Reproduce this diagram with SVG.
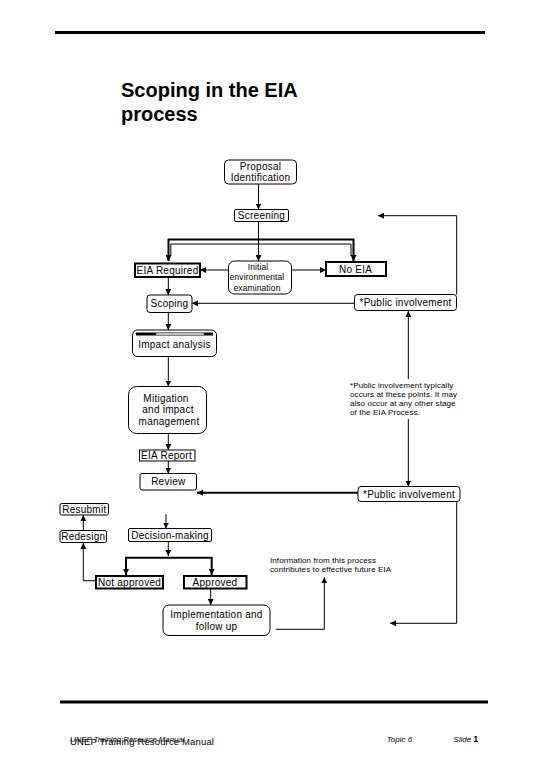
<svg xmlns="http://www.w3.org/2000/svg" width="540" height="780" viewBox="0 0 540 780">
<style>
.bg{fill:#fff}
.box{fill:#fff;stroke:#000;stroke-width:1}
.thick{fill:#fff;stroke:#000;stroke-width:2}
.t{font-family:"Liberation Sans",Arial,sans-serif;font-size:10px;letter-spacing:0.25px;fill:#000;text-anchor:middle}
.s{font-family:"Liberation Sans",Arial,sans-serif;font-size:8.5px;letter-spacing:0.1px;fill:#000;text-anchor:middle}
.n{font-family:"Liberation Sans",Arial,sans-serif;font-size:8px;letter-spacing:0.1px;fill:#000}
.c{fill:none;stroke:#000;stroke-width:1}
.c2{fill:none;stroke:#000;stroke-width:2}
.f{font-family:"Liberation Sans",Arial,sans-serif;fill:#000}
</style>
<defs>
<marker id="ah" viewBox="0 0 6 6" refX="6" refY="3" markerWidth="6" markerHeight="6" markerUnits="userSpaceOnUse" orient="auto">
<path d="M0,0 L6,3 L0,6 z" fill="#000"/>
</marker>
<marker id="ahs" viewBox="0 0 6 6" refX="0" refY="3" markerWidth="6" markerHeight="6" markerUnits="userSpaceOnUse" orient="auto">
<path d="M6,0 L0,3 L6,6 z" fill="#000"/>
</marker>
</defs>
<rect class="bg" x="0" y="0" width="540" height="780"/>

<g id="header">
<line x1="55" y1="32.5" x2="485" y2="32.5" stroke="#000" stroke-width="3"/>
<text class="f" x="121" y="97" font-size="20" font-weight="bold">Scoping in the EIA</text>
<text class="f" x="121" y="121" font-size="20" font-weight="bold">process</text>
</g>

<g id="connectors">
<line class="c" x1="258.5" y1="184" x2="258.5" y2="209.5" marker-end="url(#ah)"/>
<line class="c" x1="258.5" y1="221.5" x2="258.5" y2="261" marker-end="url(#ah)"/>
<path class="c2" d="M168.5,261 V239.5 H353.5 V261" marker-end="url(#ah)"/>
<line class="c" x1="168.5" y1="255" x2="168.5" y2="261" marker-end="url(#ah)"/>
<path class="c" d="M170.8,256 V244 H351 V256"/>
<line class="c" x1="228.5" y1="270" x2="200" y2="270" marker-end="url(#ah)"/>
<line class="c" x1="291.5" y1="270" x2="326" y2="270" marker-end="url(#ah)"/>
<line class="c" x1="168.3" y1="277" x2="168.3" y2="295" marker-end="url(#ah)"/>
<line class="c" x1="354.5" y1="303.3" x2="192" y2="303.3" marker-end="url(#ah)"/>
<path class="c" d="M456.7,294.5 V215.7 H378" marker-end="url(#ah)"/>
<line class="c" x1="168.3" y1="312.5" x2="168.3" y2="330" marker-end="url(#ah)"/>
<line class="c" x1="168.3" y1="356.5" x2="168.3" y2="386.5" marker-end="url(#ah)"/>
<line class="c" x1="168.3" y1="433.5" x2="168.3" y2="450" marker-end="url(#ah)"/>
<line class="c" x1="168.3" y1="461" x2="168.3" y2="473.5" marker-end="url(#ah)"/>
<line class="c2" x1="358" y1="492.7" x2="197" y2="492.7" marker-end="url(#ah)"/>
<line class="c" x1="408.3" y1="311" x2="408.3" y2="486.5" marker-start="url(#ahs)" marker-end="url(#ah)"/>
<path class="c" d="M456.7,501.5 V623.3 H390" marker-end="url(#ah)"/>
<line class="c" x1="166" y1="514" x2="166" y2="528.5" marker-end="url(#ah)"/>
<line class="c" x1="168.3" y1="541.5" x2="168.3" y2="556" marker-end="url(#ah)"/>
<path class="c2" d="M126,575 V557.7 H211.7 V575" marker-end="url(#ah)"/>
<line class="c" x1="126" y1="569" x2="126" y2="575" marker-end="url(#ah)"/>
<line class="c" x1="210.7" y1="588.5" x2="210.7" y2="605" marker-end="url(#ah)"/>
<path class="c" stroke-width="1.5" d="M96,580.7 H83.3 V543" marker-end="url(#ah)"/>
<line class="c" x1="83.3" y1="530.5" x2="83.3" y2="515" marker-end="url(#ah)"/>
<path class="c" stroke-width="1.5" d="M276,629.3 H324.3 V577.3" marker-end="url(#ah)"/>
</g>

<g id="proposal">
<rect class="box" x="224.5" y="160" width="72" height="24" rx="4"/>
<text class="t" x="260.5" y="169.5">Proposal</text>
<text class="t" x="260.5" y="181">Identification</text>
</g>
<g id="screening">
<rect class="box" x="234.5" y="209.5" width="54" height="12" rx="1.5"/>
<text class="t" x="261.5" y="219">Screening</text>
</g>
<g id="eia-required">
<rect class="thick" x="135" y="263.5" width="65" height="13.5"/>
<text class="t" x="167.5" y="273.8">EIA Required</text>
</g>
<g id="initial">
<rect class="box" x="228.5" y="261" width="63" height="33" rx="6"/>
<text class="s" x="258" y="269.5">Initial</text>
<text class="s" x="257" y="280">environmental</text>
<text class="s" x="257" y="290.5">examination</text>
</g>
<g id="no-eia">
<rect class="thick" x="326" y="262" width="60" height="14"/>
<text class="t" x="355.5" y="272.8">No EIA</text>
</g>
<g id="scoping">
<rect class="box" stroke-width="2.5" x="147" y="295" width="45" height="17.5" rx="3"/>
<text class="t" x="169.5" y="307.3">Scoping</text>
</g>
<g id="public-1">
<rect class="box" x="354.5" y="294.5" width="102" height="16" rx="3"/>
<text class="t" x="405.5" y="306.3">*Public involvement</text>
</g>
<g id="impact">
<rect class="box" x="132.5" y="330" width="84" height="26.5" rx="5"/>
<line x1="136" y1="334" x2="213" y2="334" stroke="#000" stroke-width="3"/>
<rect x="156" y="333.3" width="48" height="1.4" rx="0.7" fill="#fff"/>
<text class="t" x="174.5" y="348">Impact analysis</text>
</g>
<g id="mitigation">
<rect class="box" x="128.5" y="386.5" width="78" height="47" rx="8"/>
<text class="t" x="166" y="401.5">Mitigation</text>
<text class="t" x="168" y="413">and impact</text>
<text class="t" x="169" y="424.5">management</text>
</g>
<g id="eia-report">
<rect class="box" x="139.5" y="450" width="55.5" height="11"/>
<text class="t" x="166.5" y="459.3">EIA Report</text>
</g>
<g id="review">
<rect class="box" x="140" y="473.5" width="56.5" height="16.5" rx="2"/>
<text class="t" x="168.3" y="485">Review</text>
</g>
<g id="public-2">
<rect class="box" x="358" y="486.5" width="102" height="15" rx="3"/>
<text class="t" x="409" y="497.5">*Public involvement</text>
</g>
<g id="note">
<rect x="346" y="379" width="116" height="40" fill="#fff"/>
<text class="n" x="350" y="388">*Public involvement typically</text>
<text class="n" x="350" y="397">occurs at these points. It may</text>
<text class="n" x="350" y="406">also occur at any other stage</text>
<text class="n" x="350" y="415">of the EIA Process.</text>
</g>
<g id="resubmit">
<rect class="box" x="60" y="503.5" width="48.5" height="11.5" rx="1.5"/>
<text class="t" x="84.3" y="512.7">Resubmit</text>
</g>
<g id="redesign">
<rect class="box" x="60" y="530.5" width="46.5" height="12" rx="2"/>
<text class="t" x="83.3" y="540">Redesign</text>
</g>
<g id="decision">
<rect class="box" x="128.5" y="528.5" width="83" height="13" rx="1.5"/>
<text class="t" x="170" y="538.5">Decision-making</text>
</g>
<g id="not-approved">
<rect class="thick" x="96" y="576" width="67" height="12.5"/>
<text class="t" x="129.5" y="586">Not approved</text>
</g>
<g id="approved">
<rect class="thick" x="184" y="576" width="62.5" height="12.5"/>
<text class="t" x="215" y="586">Approved</text>
</g>
<g id="implementation">
<rect class="box" x="163" y="605" width="107" height="30.5" rx="6"/>
<text class="t" x="216.5" y="618">Implementation and</text>
<text class="t" x="216.5" y="630">follow up</text>
</g>
<g id="info">
<text class="n" x="270" y="563">Information from this process</text>
<text class="n" x="270" y="572">contributes to effective future EIA</text>
</g>

<g id="footer">
<line x1="60" y1="702" x2="488" y2="702" stroke="#000" stroke-width="3"/>
<text class="f" x="70" y="741.7" font-size="7.8" font-style="italic">UNEP Training Resource Manual</text>
<text class="f" x="70" y="745" font-size="9.5" letter-spacing="0.15">UNEP Training Resource Manual</text>
<text class="f" x="386.7" y="741.7" font-size="8" font-style="italic">Topic 6</text>
<text class="f" x="453.3" y="741.7" font-size="8" font-style="italic">Slide <tspan font-weight="bold" font-style="normal" font-size="9">1</tspan></text>
</g>
</svg>
